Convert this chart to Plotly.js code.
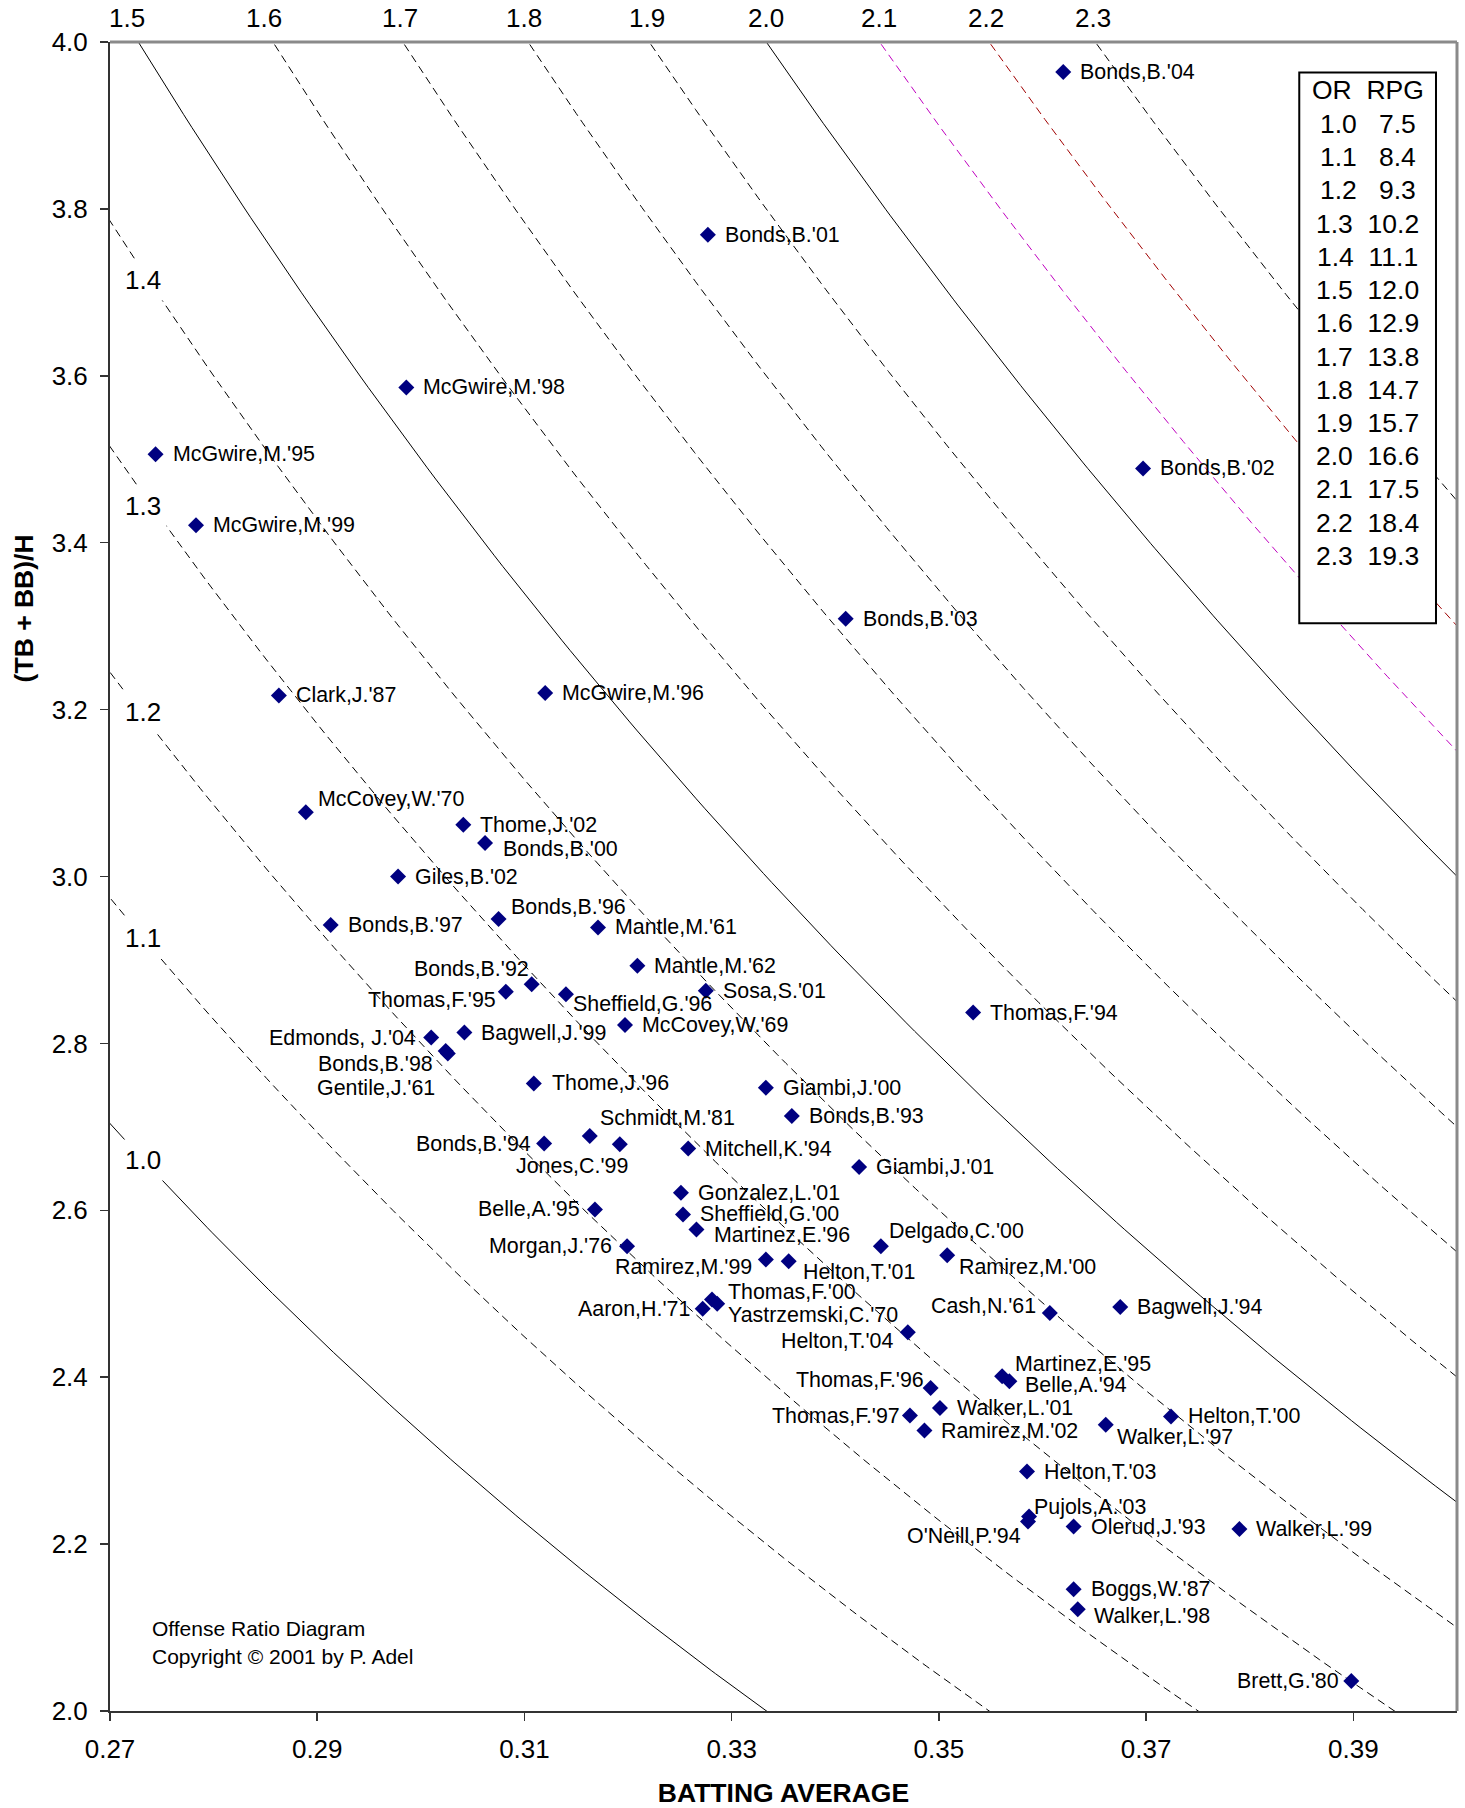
<!DOCTYPE html>
<html>
<head>
<meta charset="utf-8">
<script src="https://cdn.plot.ly/plotly-3.0.1.min.js"></script>
<style>html,body{margin:0;padding:0;background:#fff}</style>
</head>
<body>
<div id="chart" style="width:1465px;height:1808px"></div>
<script>
// ---------------- DATA ----------------
const players = ["Bonds,B.'04","Bonds,B.'01","McGwire,M.'98","McGwire,M.'95","McGwire,M.'99","Bonds,B.'02","Bonds,B.'03","Clark,J.'87","McGwire,M.'96","McCovey,W.'70",
"Thome,J.'02","Bonds,B.'00","Giles,B.'02","Bonds,B.'97","Bonds,B.'96","Mantle,M.'61","Bonds,B.'92","Mantle,M.'62","Thomas,F.'95","Sheffield,G.'96",
"Sosa,S.'01","Thomas,F.'94","Edmonds, J.'04","Bagwell,J.'99","McCovey,W.'69","Bonds,B.'98","Gentile,J.'61","Thome,J.'96","Giambi,J.'00","Schmidt,M.'81",
"Bonds,B.'93","Bonds,B.'94","Mitchell,K.'94","Jones,C.'99","Giambi,J.'01","Gonzalez,L.'01","Belle,A.'95","Sheffield,G.'00","Martinez,E.'96","Delgado,C.'00",
"Morgan,J.'76","Ramirez,M.'99","Ramirez,M.'00","Helton,T.'01","Thomas,F.'00","Cash,N.'61","Bagwell,J.'94","Aaron,H.'71","Yastrzemski,C.'70","Helton,T.'04",
"Martinez,E.'95","Thomas,F.'96","Belle,A.'94","Walker,L.'01","Helton,T.'00","Thomas,F.'97","Ramirez,M.'02","Walker,L.'97","Helton,T.'03","Pujols,A.'03",
"Olerud,J.'93","Walker,L.'99","O'Neill,P.'94","Boggs,W.'87","Walker,L.'98","Brett,G.'80"];

const battingAvg = [0.3620,0.3277,0.2986,0.2744,0.2783,0.3697,0.3410,0.2863,0.3120,0.2889,
0.3041,0.3062,0.2978,0.2913,0.3075,0.3171,0.3107,0.3209,0.3082,0.3140,
0.3275,0.3533,0.3010,0.3042,0.3197,0.3024,0.3026,0.3109,0.3333,0.3163,
0.3358,0.3119,0.3258,0.3192,0.3423,0.3251,0.3168,0.3253,0.3266,0.3444,
0.3199,0.3333,0.3508,0.3355,0.3281,0.3607,0.3675,0.3272,0.3286,0.3470,
0.3561,0.3492,0.3568,0.3501,0.3724,0.3472,0.3486,0.3661,0.3585,0.3587,
0.3630,0.3790,0.3586,0.3630,0.3634,0.3898];

const tbPlusBbPerHit = [3.964,3.769,3.586,3.506,3.421,3.489,3.309,3.217,3.220,3.077,
3.062,3.040,3.000,2.942,2.949,2.939,2.871,2.893,2.862,2.859,
2.863,2.837,2.807,2.813,2.822,2.791,2.788,2.752,2.747,2.689,
2.713,2.680,2.674,2.679,2.652,2.621,2.601,2.595,2.577,2.557,
2.557,2.541,2.546,2.539,2.493,2.477,2.484,2.482,2.488,2.454,
2.401,2.387,2.395,2.363,2.353,2.354,2.336,2.343,2.287,2.233,
2.221,2.218,2.227,2.146,2.122,2.036];

const orLevels = [1.0,1.1,1.2,1.3,1.4,1.5,1.6,1.7,1.8,1.9,2.0,2.1,2.2,2.3];
const rpgValues = [7.5,8.4,9.3,10.2,11.1,12.0,12.9,13.8,14.7,15.7,16.6,17.5,18.4,19.3];
const xTickVals = [0.27,0.29,0.31,0.33,0.35,0.37,0.39];
const yTickVals = [2.0,2.2,2.4,2.6,2.8,3.0,3.2,3.4,3.6,3.8,4.0];
const leftLabelLevels = [1.0,1.1,1.2,1.3,1.4];
const topLabelLevels = [1.5,1.6,1.7,1.8,1.9,2.0,2.1,2.2,2.3];

// ---------------- LABEL PLACEMENT (layout only) ----------------
const labelSide = ['L','L','L','L','L','L','L','L','L','L',
'L','L','L','L','L','L','R','L','R','L',
'L','L','R','L','L','R','R','L','L','L',
'L','R','L','R','L','L','R','L','L','L',
'R','R','L','L','L','R','L','R','L','R',
'L','R','L','L','L','R','L','L','L','L',
'L','L','R','L','L','R'];
const labelDx = [17,17,17,17,17,17,17,17,17,12,
17,18,17,17,12,17,-3,17,-10,7,
17,17,-15,17,17,-13,-13,18,17,10,
17,-13,17,8,17,17,-15,17,18,8,
-15,-14,12,14,16,-14,17,-13,11,-15,
13,-7,16,17,17,-10,17,11,17,5,
17,17,-7,17,16,-12];
const labelDy = [0,0,0,0,0,0,0,0,0,13,
0,-6,0,0,12,0,15,0,-8,-10,
0,0,0,0,0,-13,-35,0,0,18,
0,0,0,-22,0,0,0,0,-6,15,
0,-7,-12,-11,8,7,0,0,-11,-9,
12,8,-4,0,0,0,0,-12,0,10,
0,0,-14,0,-7,0];
const leftLabelShift = [0,0,4,-12,-8];
const topLabelShift = [-11,-9,-3,-4.5,-2,0,0,-3,-2];

const FONT = "'Liberation Sans', Arial, Helvetica, sans-serif";
const X0 = 0.27, X1 = 0.40, Y0 = 2.0, Y1 = 4.0;

// ---------------- TRACES ----------------
// Iso-lines of the offense ratio: OR = BA * R / (1 - BA)  ->  R = OR * (1 - BA) / BA
function isoY(or, x) { return or * (1 - x) / x; }

const traces = [];
orLevels.forEach(function (or) {
  const xa = Math.max(X0 - 0.0015, or / (Y1 + 0.01 + or));
  const xb = Math.min(X1 + 0.002, or / (Y0 - 0.02 + or));
  const xs = [], ys = [];
  const n = 160;
  for (let i = 0; i <= n; i++) {
    const x = xa + (xb - xa) * i / n;
    xs.push(x); ys.push(isoY(or, x));
  }
  const solid = (Math.abs(or - 1.0) < 1e-9 || Math.abs(or - 1.5) < 1e-9 || Math.abs(or - 2.0) < 1e-9);
  let color = '#000000';
  if (Math.abs(or - 2.1) < 1e-9) color = '#c000c0';
  if (Math.abs(or - 2.2) < 1e-9) color = '#a00000';
  traces.push({
    type: 'scatter', mode: 'lines', x: xs, y: ys, hoverinfo: 'skip', showlegend: false,
    line: { color: color, width: 1, dash: solid ? 'solid' : '8px,5px' }
  });
});

traces.push({
  type: 'scatter', mode: 'markers', x: battingAvg, y: tbPlusBbPerHit, text: players,
  showlegend: false, hoverinfo: 'text',
  marker: { symbol: 'diamond', size: 12.3, color: '#000080', line: { width: 0 } }
});

// ---------------- ANNOTATIONS ----------------
const annotations = [];

players.forEach(function (p, i) {
  annotations.push({
    xref: 'x', yref: 'y', x: battingAvg[i], y: tbPlusBbPerHit[i], text: p, showarrow: false,
    xanchor: labelSide[i] === 'L' ? 'left' : 'right', yanchor: 'middle',
    xshift: labelDx[i] + (labelSide[i] === 'L' ? -1 : 1), yshift: labelDy[i],
    font: { family: FONT, size: 21.4, color: '#000' }, borderpad: 0
  });
});

// OR labels on the left, sitting on their curves (white box breaks the line)
const xLeftLabel = 0.27318;
leftLabelLevels.forEach(function (or, i) {
  annotations.push({
    xref: 'x', yref: 'y', x: xLeftLabel, y: isoY(or, xLeftLabel), yshift: leftLabelShift[i], text: or.toFixed(1),
    showarrow: false, xanchor: 'center', yanchor: 'middle', bgcolor: '#ffffff', borderpad: 5,
    font: { family: FONT, size: 26, color: '#000' }
  });
});

// OR labels along the top, where each curve meets the top axis
topLabelLevels.forEach(function (or, i) {
  annotations.push({
    xref: 'x', yref: 'y', x: or / (Y1 + or), y: Y1, text: or.toFixed(1),
    showarrow: false, xanchor: 'center', yanchor: 'middle', yshift: 23.6, xshift: topLabelShift[i],
    font: { family: FONT, size: 26, color: '#000' }
  });
});

// OR / RPG table
function pyToPaper(py) { return (1710.7 - py) / 1668.4; }
function pxToPaper(px) { return (px - 110) / 1346.7; }
const NB = '\u00a0';
const tableX = pxToPaper(1367.4);
annotations.push({
  xref: 'paper', yref: 'paper', x: tableX, y: pyToPaper(90), text: 'OR' + NB + NB + 'RPG',
  showarrow: false, xanchor: 'center', yanchor: 'middle', font: { family: FONT, size: 26.5, color: '#000' }
});
orLevels.forEach(function (or, i) {
  const r = rpgValues[i];
  const gap = r < 10 ? NB + NB + NB : NB + NB;
  annotations.push({
    xref: 'paper', yref: 'paper', x: tableX, y: pyToPaper(124.3 + i * 33.2),
    text: or.toFixed(1) + gap + r.toFixed(1), showarrow: false, xanchor: 'center', yanchor: 'middle',
    font: { family: FONT, size: 26.5, color: '#000' }
  });
});

// Credit text
annotations.push({
  xref: 'paper', yref: 'paper', x: pxToPaper(150), y: pyToPaper(1628), text: 'Offense Ratio Diagram',
  showarrow: false, xanchor: 'left', yanchor: 'middle', font: { family: FONT, size: 21, color: '#000' }
});
annotations.push({
  xref: 'paper', yref: 'paper', x: pxToPaper(150), y: pyToPaper(1656.7), text: 'Copyright \u00a9 2001 by P. Adel',
  showarrow: false, xanchor: 'left', yanchor: 'middle', font: { family: FONT, size: 21, color: '#000' }
});

// Y axis title (placed above centre, as in the original)
annotations.push({
  xref: 'paper', yref: 'paper', x: pxToPaper(23.5), y: pyToPaper(608), text: '<b>(TB + BB)/H</b>',
  showarrow: false, textangle: -90, xanchor: 'center', yanchor: 'middle',
  font: { family: FONT, size: 26.5, color: '#000' }
});

// ---------------- LAYOUT ----------------
const layout = {
  width: 1465, height: 1808,
  margin: { l: 110, r: 8.3, t: 42.3, b: 97.3, pad: 0 },
  paper_bgcolor: '#ffffff', plot_bgcolor: '#ffffff',
  showlegend: false,
  font: { family: FONT, size: 26, color: '#000' },
  xaxis: {
    range: [X0, X1], tickvals: xTickVals, ticktext: xTickVals.map(function (v) { return v.toFixed(2); }),
    ticks: 'outside', ticklen: 8, tickwidth: 1.5, tickcolor: '#333',
    showline: true, linecolor: '#333', linewidth: 2, showgrid: false, zeroline: false,
    tickfont: { family: FONT, size: 26, color: '#000' }, ticklabelstandoff: 6,
    title: { text: '<b>BATTING AVERAGE</b>', font: { family: FONT, size: 26.5, color: '#000' }, standoff: 21 },
    fixedrange: true
  },
  yaxis: {
    range: [Y0, Y1], tickvals: yTickVals, ticktext: yTickVals.map(function (v) { return v.toFixed(1); }),
    ticks: 'outside', ticklen: 8, tickwidth: 1.5, tickcolor: '#333',
    showline: true, linecolor: '#333', linewidth: 2, showgrid: false, zeroline: false,
    tickfont: { family: FONT, size: 26, color: '#000' }, ticklabelstandoff: 7,
    title: { text: '' },
    fixedrange: true
  },
  shapes: [
    { type: 'line', xref: 'paper', yref: 'paper', x0: 0, x1: 1, y0: 1, y1: 1, line: { color: '#8a8a8a', width: 3 }, layer: 'above' },
    { type: 'line', xref: 'paper', yref: 'paper', x0: 1, x1: 1, y0: 0, y1: 1, line: { color: '#8a8a8a', width: 3 }, layer: 'above' },
    { type: 'rect', xref: 'paper', yref: 'paper', x0: pxToPaper(1299), x1: pxToPaper(1435.7), y0: pyToPaper(623.3), y1: pyToPaper(72.7),
      line: { color: '#000', width: 2 }, fillcolor: '#ffffff', layer: 'above' }
  ],
  annotations: annotations
};

Plotly.newPlot('chart', traces, layout, { displayModeBar: false, staticPlot: true });
</script>
</body>
</html>
